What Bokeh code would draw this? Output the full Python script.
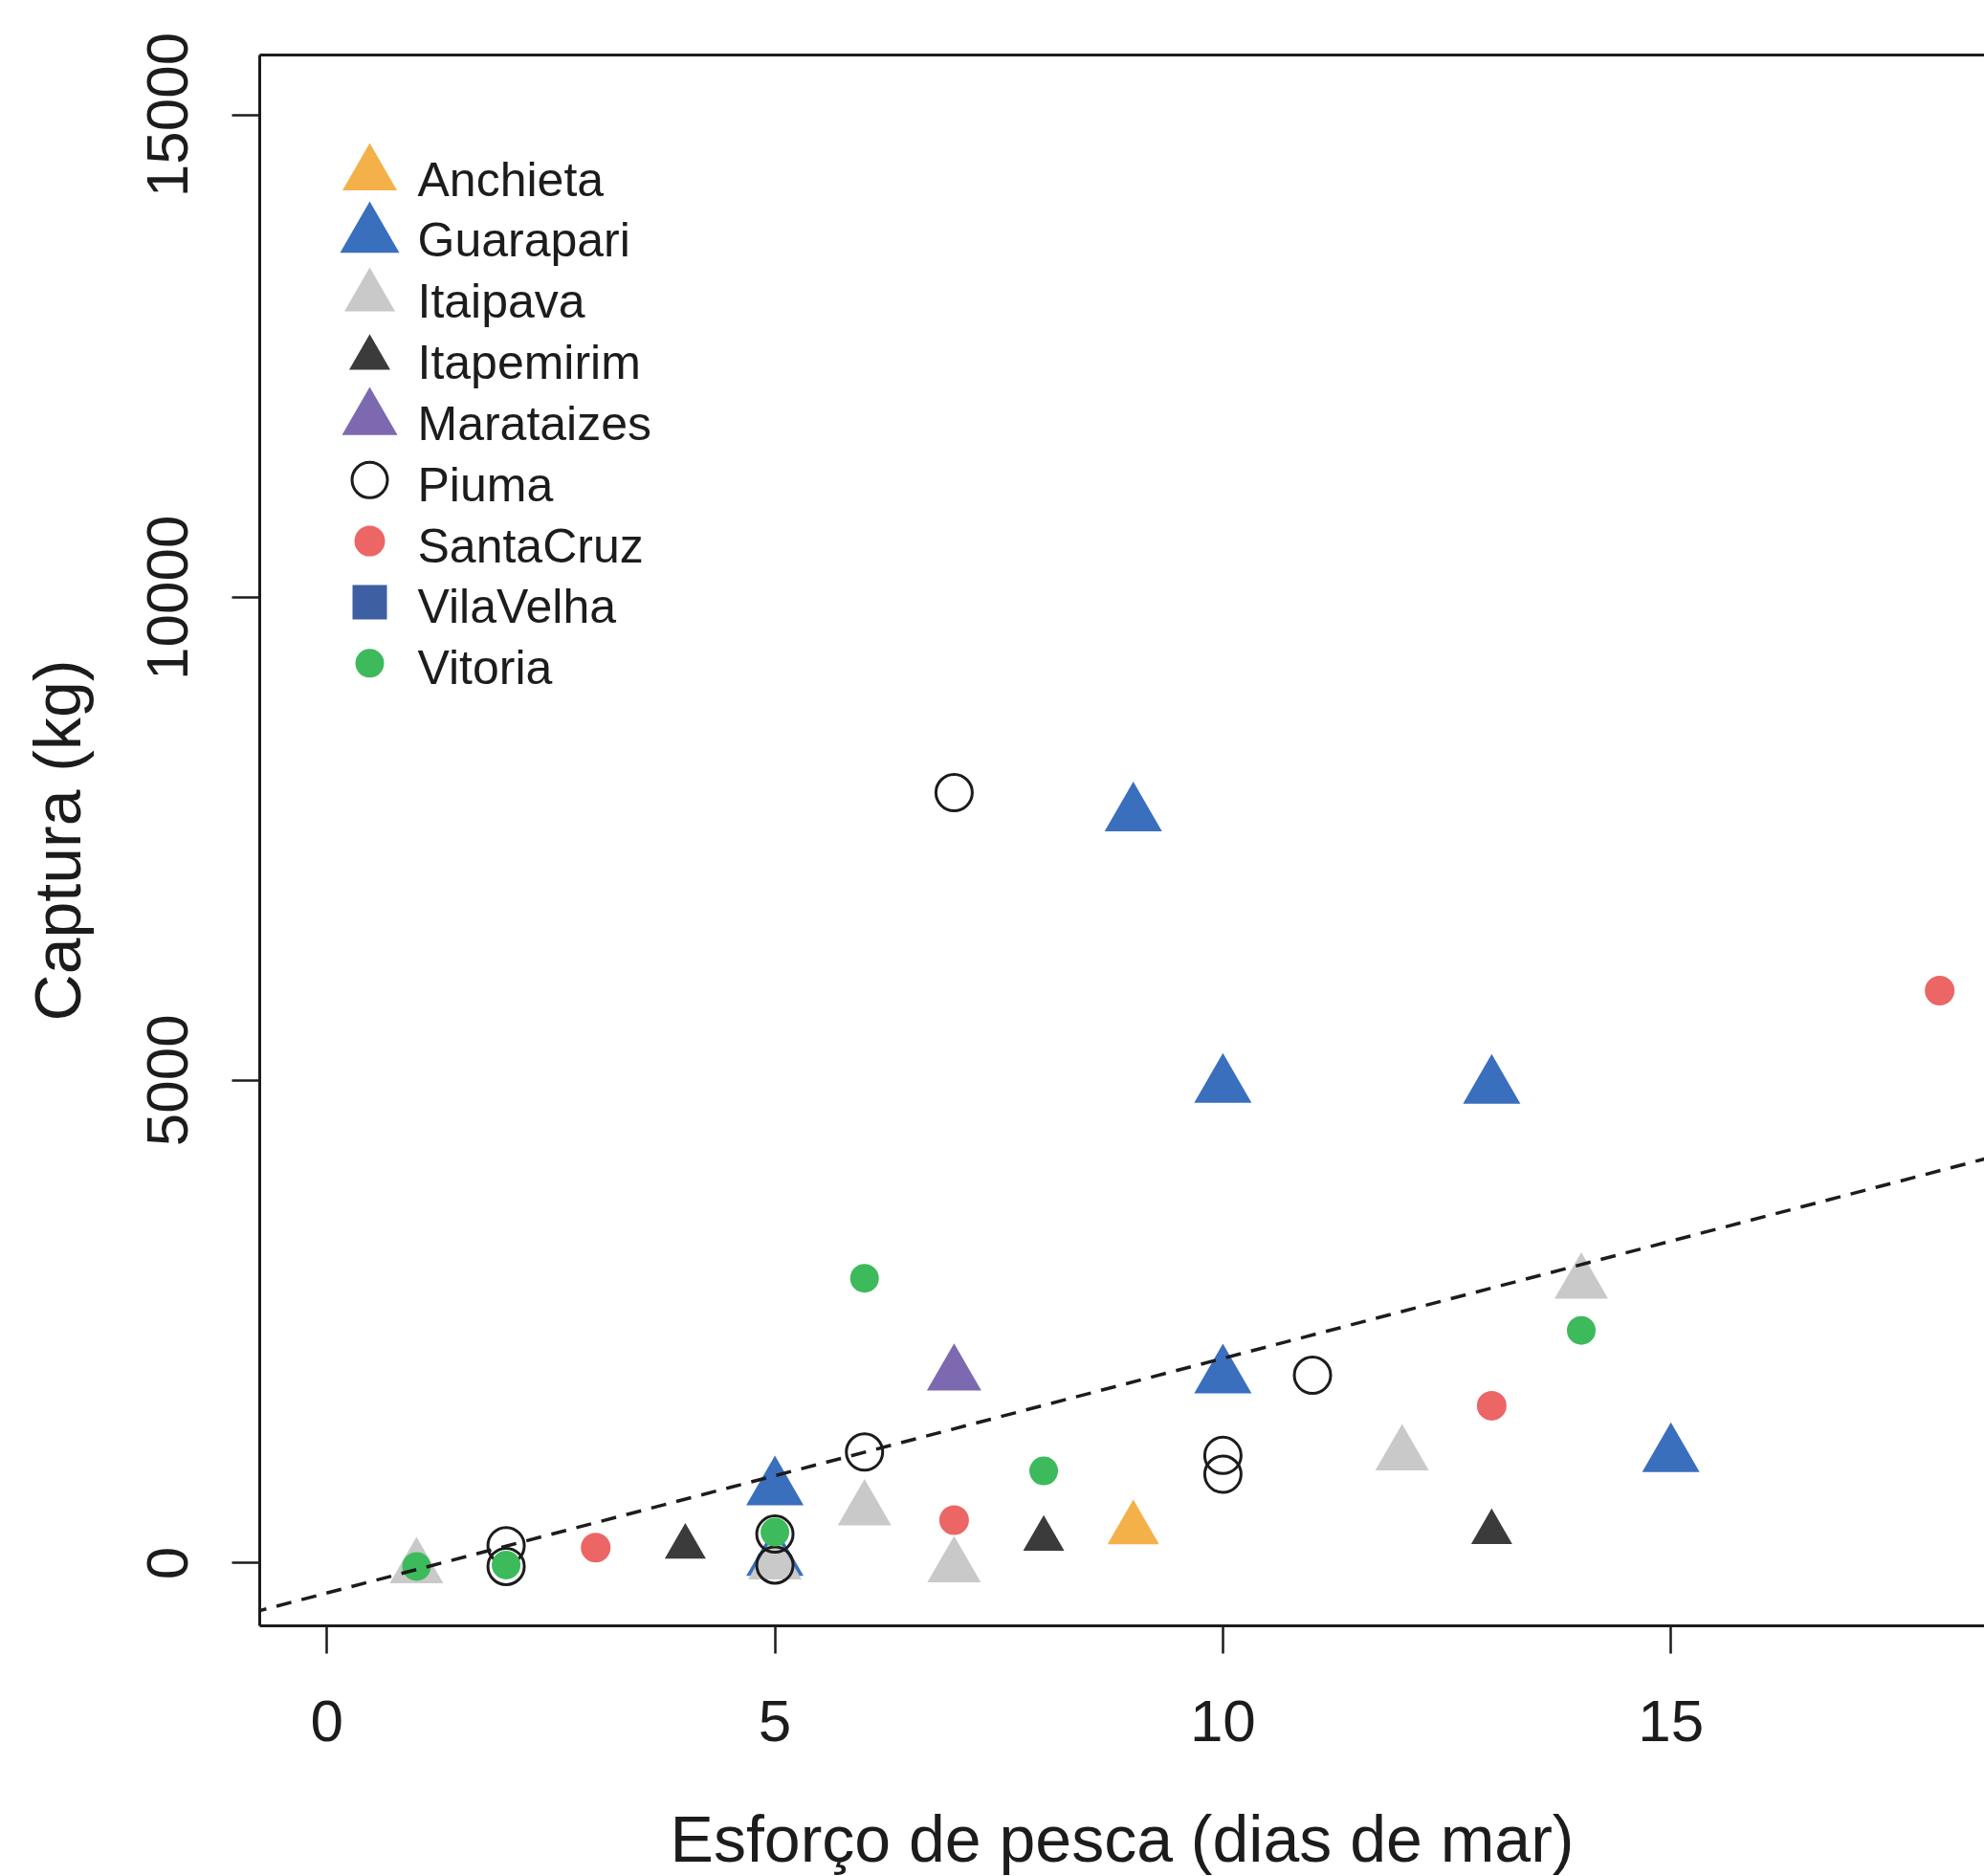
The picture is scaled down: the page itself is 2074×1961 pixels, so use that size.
from bokeh.plotting import figure
from bokeh.models import Range1d, LinearAxis, FixedTicker, Slope
from bokeh.core.properties import value
from bokeh.embed import file_html
from bokeh.resources import INLINE

FONT = "Liberation Sans"
INK = "#1c1c1c"

# ---------------- data ----------------
site_names = ["Anchieta", "Guarapari", "Itaipava", "Itapemirim", "Marataizes",
              "Piuma", "SantaCruz", "VilaVelha", "Vitoria"]

anchieta_x = [9]
anchieta_y = [350]
guarapari_x = [5, 5, 9, 10, 10, 13, 15]
guarapari_y = [40, 770, 7750, 4940, 1930, 4930, 1115]
itaipava_x = [1, 5, 6, 7, 12, 14]
itaipava_y = [-50, -10, 550, -40, 1120, 2900]
itapemirim_x = [4, 8, 13]
itapemirim_y = [170, 250, 320]
marataizes_x = [7]
marataizes_y = [1950]
piuma_x = [2, 2, 5, 5, 6, 7, 10, 10, 11]
piuma_y = [180, -35, 300, -20, 1150, 7980, 1115, 920, 1946]
santacruz_x = [3, 7, 13, 18]
santacruz_y = [160, 445, 1630, 5930]
vilavelha_x = []
vilavelha_y = []
vitoria_x = [1, 2, 5, 6, 8, 14]
vitoria_y = [-35, -20, 320, 2950, 955, 2410]

series_x = [anchieta_x, guarapari_x, itaipava_x, itapemirim_x, marataizes_x,
            piuma_x, santacruz_x, vilavelha_x, vitoria_x]
series_y = [anchieta_y, guarapari_y, itaipava_y, itapemirim_y, marataizes_y,
            piuma_y, santacruz_y, vilavelha_y, vitoria_y]

# fitted line
fit_intercept = -310
fit_slope = 243

x_ticks = [0, 5, 10, 15]
y_ticks = [0, 5000, 10000, 15000]
x_title = "Esforço de pesca (dias de mar)"
y_title = "Captura (kg)"

# ---------------- styles ----------------
markers = ["triangle", "triangle", "triangle", "triangle", "triangle",
           "circle", "circle", "square", "circle"]
colors = ["#F4B14A", "#3A6FBE", "#C9C9C9", "#3B3B3B", "#7D69AF",
          INK, "#EC6666", "#3E60A2", "#3DBA5B"]
hollow = [False, False, False, False, False, True, False, False, False]
plot_sizes = [54, 60, 56, 43, 57, 38, 31, 36, 30]
legend_sizes = [57, 62, 53, 43, 58, 37, 32, 36, 30]

FRAME_W, FRAME_H = 1803, 1642

p = figure(frame_width=FRAME_W, frame_height=FRAME_H,
           x_range=Range1d(-0.75, 18.5), y_range=Range1d(-650, 15620),
           output_backend="svg", toolbar_location=None,
           min_border_left=271, min_border_right=0,
           min_border_top=57, min_border_bottom=262,
           background_fill_color="white", border_fill_color="white")
p.outline_line_color = None
p.grid.visible = False

# pixel-space ranges for the legend block (origin at frame top-left)
p.extra_x_ranges = {"px": Range1d(0, FRAME_W)}
p.extra_y_ranges = {"py": Range1d(FRAME_H, 0)}

for xs, ys, mk, col, hol, sz in zip(series_x, series_y, markers, colors, hollow, plot_sizes):
    if not xs:
        continue
    if hol:
        p.scatter(xs, ys, marker=mk, size=sz, fill_color=None,
                  line_color=col, line_width=3)
    else:
        p.scatter(xs, ys, marker=mk, size=sz, fill_color=col,
                  line_color=None)

p.add_layout(Slope(gradient=fit_slope, y_intercept=fit_intercept,
                   line_color=INK, line_width=3.5, line_dash="16 11"))

# ---------------- legend (no box, like R's bty="n") ----------------
LEG_X, LEG_TX, LEG_Y0, LEG_Y0T, LEG_STEP = 115, 165, 125, 130, 63.85
for i, (name, mk, col, hol, sz) in enumerate(zip(site_names, markers, colors, hollow, legend_sizes)):
    yy = LEG_Y0 + i * LEG_STEP
    if hol:
        p.scatter([LEG_X], [yy], marker=mk, size=sz, fill_color=None,
                  line_color=col, line_width=3,
                  x_range_name="px", y_range_name="py")
    else:
        p.scatter([LEG_X], [yy], marker=mk, size=sz, fill_color=col,
                  line_color=None, x_range_name="px", y_range_name="py")
    p.text([LEG_TX], [LEG_Y0T + i * LEG_STEP], text=[name],
           text_font=value(FONT), text_font_size=value("50px"),
           text_color=INK, text_align="left", text_baseline="alphabetic",
           x_range_name="px", y_range_name="py")

# ---------------- axes ----------------
for ax in (p.xaxis[0], p.yaxis[0]):
    ax.axis_line_color = INK
    ax.axis_line_width = 3
    ax.major_tick_line_color = INK
    ax.major_tick_line_width = 2.5
    ax.major_tick_out = 29
    ax.major_tick_in = 0
    ax.minor_tick_line_color = None
    ax.major_label_text_font = FONT
    ax.major_label_text_font_size = "62px"
    ax.major_label_text_color = INK
    ax.axis_label_text_font = FONT
    ax.axis_label_text_font_size = "68px"
    ax.axis_label_text_font_style = "normal"
    ax.axis_label_text_color = INK

p.xaxis[0].ticker = FixedTicker(ticks=x_ticks)
p.yaxis[0].ticker = FixedTicker(ticks=y_ticks)
p.xaxis[0].axis_label = x_title
p.yaxis[0].axis_label = y_title
p.xaxis[0].major_label_standoff = 49
p.xaxis[0].axis_label_standoff = 61
p.yaxis[0].major_label_orientation = "vertical"
p.yaxis[0].major_label_standoff = 46
p.yaxis[0].axis_label_standoff = 54

top = LinearAxis(ticker=FixedTicker(ticks=[]), axis_line_color=INK,
                 axis_line_width=3, major_tick_line_color=None,
                 minor_tick_line_color=None, major_label_text_font_size="0px")
p.add_layout(top, "above")

open("out.html", "w").write(file_html(p, INLINE))
